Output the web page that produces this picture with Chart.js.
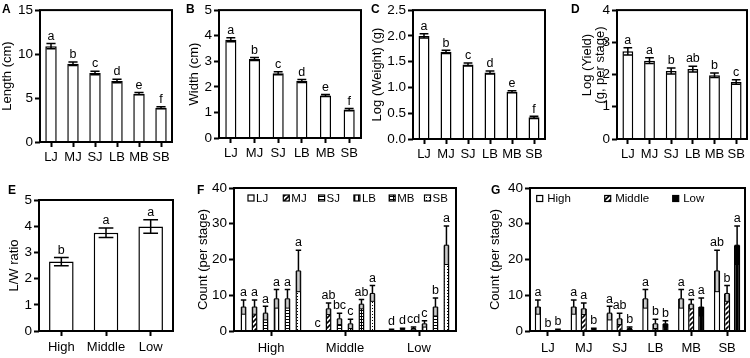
<!DOCTYPE html>
<html>
<head>
<meta charset="utf-8">
<script src="https://cdn.jsdelivr.net/npm/chart.js@4"></script>
<style>
  body { margin: 0; width: 750px; height: 358px; position: relative; overflow: hidden; background: #fff;
         font-family: "Liberation Sans", Arial, sans-serif; }
  canvas { position: absolute; }
  .tag { position: absolute; font-weight: bold; font-size: 12px; line-height: 12px; color: #000; }
  .ytitle { position: absolute; width: 110px; height: 26px; font-size: 13px; line-height: 13px;
            text-align: center; color: #000; transform: rotate(-90deg); }
</style>
</head>
<body>
<canvas id="cA" width="185" height="175" style="left:0;top:0"></canvas>
<canvas id="cB" width="185" height="175" style="left:185px;top:0"></canvas>
<canvas id="cC" width="185" height="175" style="left:370px;top:0"></canvas>
<canvas id="cD" width="195" height="175" style="left:555px;top:0"></canvas>
<canvas id="cE" width="185" height="183" style="left:0;top:175px"></canvas>
<canvas id="cF" width="285" height="183" style="left:185px;top:175px"></canvas>
<canvas id="cG" width="280" height="183" style="left:470px;top:175px"></canvas>
<div class="tag" style="left:2px;top:3px">A</div>
<div class="tag" style="left:186px;top:3px">B</div>
<div class="tag" style="left:371px;top:3px">C</div>
<div class="tag" style="left:571px;top:3px">D</div>
<div class="tag" style="left:8px;top:184px">E</div>
<div class="tag" style="left:197px;top:184px">F</div>
<div class="tag" style="left:491px;top:184px">G</div>
<div class="ytitle" style="left:538px;top:52px">Log (Yield)<br>(g, per stage)</div>

<script>
// ---- data ----
const stages = ['LJ', 'MJ', 'SJ', 'LB', 'MB', 'SB'];
const zones = ['High', 'Middle', 'Low'];

const lengthMean = [10.9, 8.9, 7.85, 6.95, 5.5, 3.9];
const lengthErr  = [0.3, 0.2, 0.2, 0.2, 0.12, 0.12];
const lengthSig  = ['a', 'b', 'c', 'd', 'e', 'f'];

const widthMean = [3.84, 3.09, 2.53, 2.23, 1.66, 1.11];
const widthErr  = [0.08, 0.06, 0.06, 0.06, 0.04, 0.04];
const widthSig  = ['a', 'b', 'c', 'd', 'e', 'f'];

const weightMean = [2.0, 1.69, 1.445, 1.29, 0.915, 0.42];
const weightErr  = [0.04, 0.03, 0.03, 0.03, 0.02, 0.02];
const weightSig  = ['a', 'b', 'c', 'd', 'e', 'f'];

const yieldMean = [2.72, 2.43, 2.11, 2.17, 1.98, 1.77];
const yieldErr  = [0.11, 0.09, 0.09, 0.09, 0.07, 0.07];
const yieldSig  = ['a', 'a', 'b', 'ab', 'b', 'c'];

const ratioMean = [2.65, 3.75, 3.99];
const ratioErr  = [0.16, 0.18, 0.26];
const ratioSig  = ['b', 'a', 'a'];

// counts per stage, one array per zone (order of stages)
const countHigh      = [6.7, 6.7, 5.0, 9.0, 9.0, 16.8];
const countHighErr   = [2.0, 2.0, 1.9, 2.6, 2.6, 5.8];
const countMiddle    = [0, 6.2, 3.4, 2.0, 7.5, 10.5];
const countMiddleErr = [0, 1.6, 1.6, 1.3, 1.3, 2.2];
const countLow       = [0.3, 0.5, 0.7, 2.0, 6.7, 24.0];
const countLowErr    = [0.2, 0.3, 0.4, 0.9, 2.5, 5.4];

// letters in F (compare stages within a zone)
const sigFHigh   = ['a', 'a', 'a', 'a', 'a', 'a'];
const sigFMiddle = ['c', 'ab', 'bc', 'c', 'ab', 'a'];
const sigFLow    = ['d', 'd', 'cd', 'c', 'b', 'a'];
// letters in G (compare zones within a stage)
const sigGHigh   = ['a', 'a', 'a', 'a', 'a', 'ab'];
const sigGMiddle = ['b', 'a', 'ab', 'b', 'a', 'b'];
const sigGLow    = ['b', 'b', 'b', 'b', 'a', 'a'];

// ---- drawing ----
Chart.defaults.font.family = '"Liberation Sans", Arial, sans-serif';
Chart.defaults.color = '#000';
Chart.defaults.animation = false;
const ink = '#000';

function pattern(draw, w, h) {
  const c = document.createElement('canvas');
  c.width = w; c.height = h;
  const g = c.getContext('2d');
  g.fillStyle = '#fff'; g.fillRect(0, 0, w, h);
  g.fillStyle = ink; g.strokeStyle = ink;
  draw(g);
  return g.createPattern(c, 'repeat');
}
const hatch = pattern(g => {
  g.lineWidth = 1.6;
  g.beginPath();
  g.moveTo(0, 5); g.lineTo(5, 0);
  g.moveTo(-1, 1); g.lineTo(1, -1);
  g.moveTo(4, 6); g.lineTo(6, 4);
  g.stroke();
}, 5, 5);
const hlines = pattern(g => g.fillRect(0, 0, 3, 1), 3, 3);
const vlines = pattern(g => g.fillRect(1, 0, 1.4, 4), 4, 4);
const grid   = pattern(g => { g.fillRect(0, 0, 4, 1); g.fillRect(0, 0, 1, 3); }, 4, 3);
const dots   = pattern(g => g.fillRect(1, 1, 1, 1), 3, 3);

const errBars = {
  id: 'errBars',
  afterDatasetsDraw(chart, args, o) {
    const ctx = chart.ctx, y = chart.scales.y;
    ctx.save();
    chart.data.datasets.forEach((ds, di) => {
      chart.getDatasetMeta(di).data.forEach((bar, i) => {
        const v = ds.data[i], e = ds.errors[i];
        const x = bar.x, w = bar.width;
        const yTop = y.getPixelForValue(v + e);
        const yBot = y.getPixelForValue(Math.max(0, v - e));
        const yMid = bar.y;
        const cw = w * o.cap;
        if (e > 0) {
          ctx.strokeStyle = ink;
          ctx.lineWidth = 1.5;
          ctx.beginPath();
          ctx.moveTo(x, o.style === 'I' ? yBot : yMid);
          ctx.lineTo(x, yTop);
          ctx.moveTo(x - cw / 2, yTop); ctx.lineTo(x + cw / 2, yTop);
          if (o.style === 'I') { ctx.moveTo(x - cw / 2, yBot); ctx.lineTo(x + cw / 2, yBot); }
          ctx.stroke();
          if (o.style === 'box' && yBot - yMid > 1) {
            const bw = w * o.box;
            ctx.fillStyle = ds.errFill || '#cccccc';
            ctx.lineWidth = 1;
            ctx.fillRect(x - bw / 2, yMid, bw, yBot - yMid);
            ctx.strokeRect(x - bw / 2, yMid, bw, yBot - yMid);
          }
        }
        ctx.fillStyle = ink;
        ctx.font = '12.5px "Liberation Sans"';
        ctx.textAlign = 'center';
        ctx.textBaseline = 'bottom';
        ctx.fillText(ds.sig[i], x, yTop - 1);
      });
    });
    ctx.restore();
  }
};

const boxLegend = {
  id: 'boxLegend',
  afterDraw(chart, args, o) {
    if (!o.show) return;
    const { ctx, chartArea: a } = chart;
    ctx.save();
    chart.data.datasets.forEach((ds, i) => {
      const x = a.left + o.x0 + i * o.step, y = a.top + o.y;
      ctx.fillStyle = ds.backgroundColor;
      ctx.fillRect(x, y, o.size, o.size);
      ctx.strokeStyle = ink; ctx.lineWidth = 1.2;
      ctx.strokeRect(x, y, o.size, o.size);
      ctx.fillStyle = ink;
      ctx.font = '11.5px "Liberation Sans"';
      ctx.textAlign = 'left'; ctx.textBaseline = 'middle';
      ctx.fillText(ds.label, x + o.gap, y + o.size / 2 + 0.5);
    });
    ctx.restore();
  }
};

const frame = {
  id: 'frame',
  afterDraw(chart) {
    const { ctx, chartArea: a } = chart;
    ctx.save();
    ctx.strokeStyle = ink; ctx.lineWidth = 2;
    ctx.strokeRect(a.left, a.top, a.right - a.left, a.bottom - a.top);
    ctx.restore();
  }
};

function panel(id, labels, datasets, opt) {
  return new Chart(document.getElementById(id), {
    type: 'bar',
    data: { labels: labels, datasets: datasets },
    options: {
      responsive: false,
      layout: { padding: { top: opt.pt, right: opt.pr, left: 0, bottom: 0 } },
      datasets: { bar: { barPercentage: opt.bp, categoryPercentage: opt.cp, borderColor: ink, borderWidth: 1.5 } },
      plugins: {
        legend: { display: false },
        tooltip: { enabled: false },
        errBars: { style: opt.err || 'I', cap: opt.cap || 0.8, box: 0.6 },
        boxLegend: opt.legend || {}
      },
      scales: {
        x: {
          grid: { offset: false, drawOnChartArea: false, tickLength: 5, tickWidth: 2, tickColor: ink },
          border: { display: false },
          ticks: { font: { size: 13 }, padding: opt.xpad, maxRotation: 0, autoSkip: false },
          afterFit: s => { s.height = opt.xh; }
        },
        y: {
          min: 0, max: opt.max,
          grid: { drawOnChartArea: false, tickLength: 5, tickWidth: 2, tickColor: ink },
          border: { display: false },
          ticks: { stepSize: opt.step, font: { size: 13.5 }, padding: 2, callback: opt.fmt || (v => v) },
          title: { display: !!opt.title, text: opt.title || '', font: { size: 13 }, padding: { top: opt.tp || 0, bottom: 0 } },
          afterFit: s => { s.width = opt.yw; }
        }
      }
    },
    plugins: [errBars, boxLegend, frame]
  });
}

const plain = (data, errors, sig) => [{ data: data, errors: errors, sig: sig, backgroundColor: '#fff' }];

panel('cA', stages, plain(lengthMean, lengthErr, lengthSig),
  { pt: 10, pr: 13, yw: 40, xh: 33, xpad: 3, bp: 0.52, cp: 1, max: 15, step: 5, title: 'Length (cm)', tp: 0 });
panel('cB', stages, plain(widthMean, widthErr, widthSig),
  { pt: 6, pr: 9, yw: 34, xh: 37, xpad: 3, bp: 0.47, cp: 1, max: 5, step: 1, title: 'Width (cm)', tp: 2 });
panel('cC', stages, plain(weightMean, weightErr, weightSig),
  { pt: 7, pr: 10, yw: 43, xh: 36, xpad: 3, bp: 0.5, cp: 1, max: 2.5, step: 0.5, title: 'Log (Weight) (g)', tp: 0,
    fmt: v => v.toFixed(1) });
// D's two-line axis title is the rotated div above
panel('cD', stages, plain(yieldMean, yieldErr, yieldSig),
  { pt: 7, pr: 3, yw: 62, xh: 36, xpad: 3, bp: 0.5, cp: 1, max: 4, step: 1, title: null });
panel('cE', zones, plain(ratioMean, ratioErr, ratioSig),
  { pt: 25, pr: 12, yw: 39, xh: 27, xpad: 4, bp: 0.55, cp: 1, max: 5, step: 1, title: 'L/W ratio', tp: 7, cap: 0.6 });

const stageFills = ['#fff', hatch, hlines, vlines, grid, dots];
const byZone = [[countHigh, countHighErr, sigFHigh], [countMiddle, countMiddleErr, sigFMiddle], [countLow, countLowErr, sigFLow]];
const fSets = stages.map((s, i) => ({
  label: s,
  data: byZone.map(z => z[0][i]),
  errors: byZone.map(z => z[1][i]),
  sig: byZone.map(z => z[2][i]),
  backgroundColor: stageFills[i]
}));
panel('cF', zones, fSets,
  { pt: 13, pr: 14, yw: 49, xh: 27, xpad: 5, bp: 0.55, cp: 0.89, max: 40, step: 10, title: 'Count (per stage)', tp: 11,
    err: 'box', cap: 0.9, legend: { show: true, x0: 14, step: 35.3, y: 7, size: 6, gap: 8 } });

const gSets = [
  { label: 'High', data: countHigh, errors: countHighErr, sig: sigGHigh, backgroundColor: '#fff' },
  { label: 'Middle', data: countMiddle, errors: countMiddleErr, sig: sigGMiddle, backgroundColor: hatch },
  { label: 'Low', data: countLow, errors: countLowErr, sig: sigGLow, backgroundColor: ink, errFill: ink }
];
panel('cG', stages, gSets,
  { pt: 13, pr: 5, yw: 60, xh: 27, xpad: 5, bp: 0.63, cp: 0.84, max: 40, step: 10, title: 'Count (per stage)', tp: 18,
    err: 'box', cap: 0.9, legend: { show: true, x0: 6.7, step: 68, y: 7.5, size: 6, gap: 10.5 } });
</script>
</body>
</html>
